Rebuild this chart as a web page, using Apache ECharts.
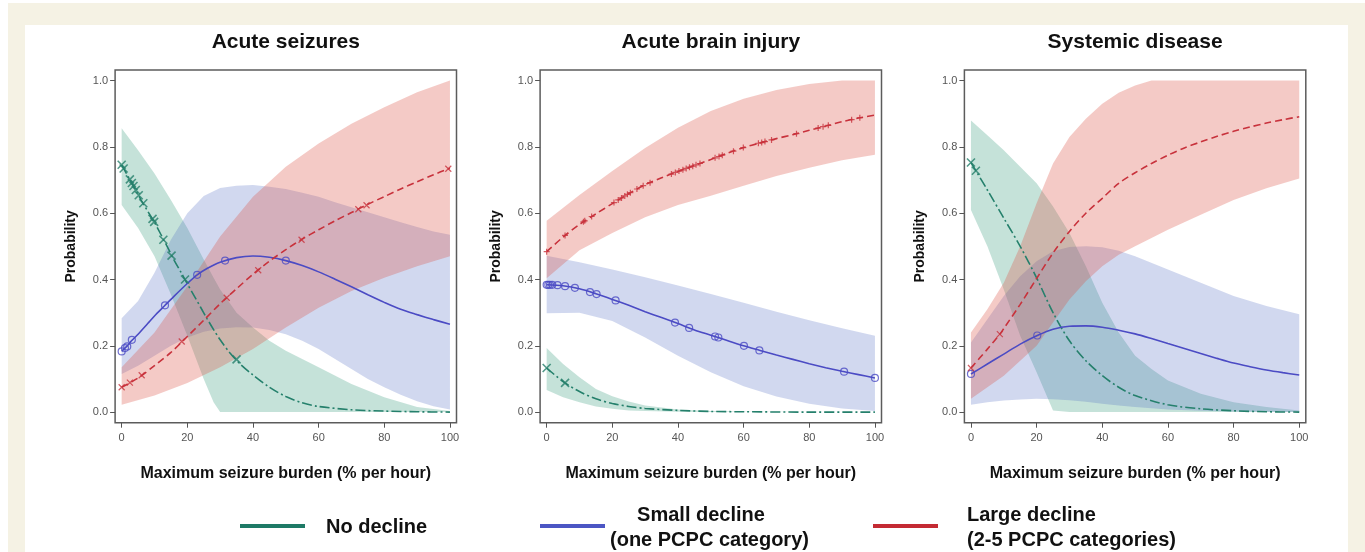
<!DOCTYPE html>
<html><head><meta charset="utf-8">
<script src="https://cdn.jsdelivr.net/npm/echarts@6/dist/echarts.min.js"></script>
<style>
html,body{margin:0;padding:0;background:#fff;}
#wrap{position:relative;width:1365px;height:552px;overflow:hidden;background:#fff;}
#cream{position:absolute;left:8px;top:3px;right:0;bottom:0;background:#f5f2e4;}
#paper{position:absolute;left:25px;top:25px;width:1323px;bottom:0;background:#fff;}
#chart{position:absolute;left:0;top:0;width:1365px;height:552px;}
</style></head><body>
<div id="wrap"><div id="cream"></div><div id="paper"></div><div id="chart"></div></div>
<script>
// ---------- text / ticks ----------
const panelTitles = ['Acute seizures', 'Acute brain injury', 'Systemic disease'];
const xAxisTitle = 'Maximum seizure burden (% per hour)';
const yAxisTitle = 'Probability';
const xTicks = [0, 20, 40, 60, 80, 100];
const yTicks = [0, 0.2, 0.4, 0.6, 0.8, 1.0];
const legendLines = [['No decline'], ['Small decline', '(one PCPC category)'], ['Large decline', '(2-5 PCPC categories)']];

// ---------- Panel 1: Acute seizures ----------
const as_noX = [0,2,4,6,8,10,12,14,16,18,20,22,24,26,28,30,33,36,40,45,50,55,60,70,80,90,100];
const as_noY = [0.746,0.71,0.675,0.638,0.605,0.572,0.535,0.497,0.458,0.423,0.387,0.352,0.317,0.282,0.249,0.218,0.178,0.146,0.112,0.075,0.047,0.028,0.017,0.007,0.003,0.001,0.0];
const as_noMX = [0,0.6,2.5,3.1,3.6,4.3,5.2,6.6,9.4,9.9,12.7,15.2,19.3,35];
const as_noMY = [0.746,0.735,0.702,0.691,0.682,0.67,0.654,0.63,0.583,0.574,0.52,0.472,0.4,0.159];
const as_noBX = [0,5,10,15,20,25,28,30,35,40,45,50,60,70,80,90,100];
const as_noLo = [0.625,0.555,0.47,0.355,0.23,0.1,0.03,0,0,0,0,0,0,0,0,0,0];
const as_noHi = [0.856,0.79,0.72,0.64,0.555,0.46,0.405,0.37,0.3,0.255,0.215,0.185,0.135,0.085,0.045,0.015,0.003];

const as_smX = [0,1,2,3,5,8,10,13,16,20,23,26,30,35,40,45,50,55,60,65,70,75,80,85,90,95,100];
const as_smY = [0.183,0.193,0.203,0.215,0.235,0.268,0.29,0.32,0.35,0.388,0.414,0.433,0.452,0.466,0.471,0.467,0.457,0.442,0.423,0.401,0.378,0.354,0.331,0.31,0.294,0.279,0.265];
const as_smMX = [0,1,1.7,3.1,13.2,23,31.5,50];
const as_smMY = [0.183,0.193,0.198,0.218,0.322,0.414,0.457,0.457];
const as_smBX = [0,5,10,15,20,25,30,35,40,45,50,55,60,65,70,75,80,85,90,95,100];
const as_smHi = [0.283,0.335,0.42,0.52,0.6,0.652,0.676,0.683,0.685,0.68,0.673,0.662,0.65,0.633,0.618,0.603,0.588,0.573,0.558,0.545,0.535];
const as_smLo = [0.115,0.14,0.17,0.2,0.225,0.242,0.252,0.256,0.255,0.248,0.235,0.215,0.19,0.16,0.13,0.1,0.075,0.052,0.033,0.018,0.008];

const as_lgX = [0,5,10,15,20,25,30,35,40,45,50,55,60,65,70,75,80,85,90,95,100];
const as_lgY = [0.075,0.103,0.14,0.18,0.228,0.277,0.327,0.372,0.416,0.455,0.49,0.522,0.55,0.577,0.602,0.627,0.65,0.673,0.695,0.716,0.736];
const as_lgMX = [0,2.5,6.1,18.3,32,41.6,54.8,72.1,74.6,99.5];
const as_lgMY = [0.075,0.089,0.111,0.213,0.345,0.428,0.52,0.612,0.624,0.734];
const as_lgBX = [0,10,20,30,40,50,60,70,80,90,100];
const as_lgHi = [0.135,0.24,0.38,0.53,0.65,0.74,0.81,0.87,0.92,0.965,1.0];
const as_lgLo = [0.022,0.05,0.088,0.135,0.19,0.255,0.315,0.365,0.405,0.44,0.47];

// ---------- Panel 2: Acute brain injury ----------
const ab_noX = [0,5,10,15,20,25,30,40,50,60,80,100];
const ab_noY = [0.133,0.092,0.062,0.04,0.026,0.017,0.011,0.005,0.002,0.001,0.0,0.0];
const ab_noMX = [0,5.6];
const ab_noMY = [0.133,0.088];
const ab_noBX = [0,5,10,15,20,25,30,40,50,60,100];
const ab_noHi = [0.193,0.145,0.105,0.07,0.048,0.032,0.02,0.008,0.003,0.001,0];
const ab_noLo = [0.067,0.045,0.03,0.017,0.01,0.005,0.003,0.001,0,0,0];

const ab_smX = [0,5,10,15,20,25,30,35,40,45,50,55,60,65,70,75,80,85,90,95,100];
const ab_smY = [0.384,0.381,0.372,0.357,0.34,0.322,0.303,0.285,0.267,0.248,0.232,0.216,0.2,0.186,0.172,0.159,0.146,0.134,0.123,0.113,0.103];
const ab_smMX = [0,0.5,1,1.7,3.3,5.6,8.6,13.2,15.2,21,39.1,43.4,51.3,52.3,60.1,64.8,90.6,100];
const ab_smMY = [0.384,0.384,0.384,0.384,0.383,0.38,0.375,0.362,0.356,0.337,0.27,0.254,0.228,0.225,0.2,0.186,0.122,0.103];
const ab_smBX = [0,10,20,30,40,50,60,70,80,90,100];
const ab_smHi = [0.472,0.452,0.43,0.407,0.382,0.356,0.33,0.303,0.277,0.253,0.23];
const ab_smLo = [0.298,0.3,0.275,0.225,0.17,0.12,0.078,0.047,0.025,0.011,0.003];

const ab_lgX = [0,5,10,15,20,25,30,35,40,45,50,55,60,65,70,75,80,85,90,95,100];
const ab_lgY = [0.484,0.528,0.566,0.598,0.629,0.659,0.686,0.707,0.726,0.744,0.762,0.781,0.798,0.812,0.825,0.837,0.85,0.863,0.876,0.887,0.896];
const ab_lgMX = [0,5.6,11.2,11.6,13.7,20.5,21.8,22.8,23.8,24.6,25.5,27.5,29.4,31.5,38,39.2,40.3,41.5,42.5,43.5,44.5,45.5,46.7,51.3,52.5,53.5,56.9,59.9,64.5,65.5,66.5,68.5,76.1,82.7,84.2,85.8,92.9,95.4];
const ab_lgMY = [0.484,0.533,0.574,0.577,0.59,0.632,0.64,0.646,0.652,0.657,0.662,0.673,0.683,0.692,0.718,0.723,0.727,0.731,0.735,0.739,0.742,0.746,0.75,0.767,0.771,0.775,0.787,0.798,0.811,0.813,0.816,0.821,0.84,0.857,0.861,0.865,0.882,0.888];
const ab_lgBX = [0,10,20,30,40,50,60,70,80,90,100];
const ab_lgHi = [0.577,0.655,0.727,0.797,0.858,0.908,0.945,0.972,0.99,1.0,1.0];
const ab_lgLo = [0.404,0.488,0.54,0.588,0.625,0.653,0.683,0.712,0.737,0.76,0.776];

// ---------- Panel 3: Systemic disease ----------
const sd_noX = [0,1.5,5,10,15,20,25,30,35,40,45,50,60,70,80,90,100];
const sd_noY = [0.753,0.728,0.67,0.585,0.5,0.405,0.3,0.215,0.155,0.11,0.075,0.05,0.022,0.01,0.004,0.001,0.0];
const sd_noMX = [0,1.5];
const sd_noMY = [0.753,0.728];
const sd_noBX = [0,5,10,15,20,25,30,35,40,45,50,55,60,70,80,90,100];
const sd_noHi = [0.88,0.835,0.79,0.74,0.69,0.62,0.54,0.44,0.33,0.24,0.17,0.13,0.095,0.055,0.03,0.015,0.005];
const sd_noLo = [0.61,0.5,0.37,0.23,0.12,0.005,0,0,0,0,0,0,0,0,0,0,0];

const sd_smX = [0,5,10,15,20.2,25,30,35,40,45,50,55,60,65,70,75,80,85,90,95,100];
const sd_smY = [0.115,0.145,0.175,0.205,0.231,0.25,0.259,0.26,0.256,0.247,0.236,0.222,0.207,0.192,0.177,0.162,0.148,0.137,0.127,0.119,0.112];
const sd_smMX = [0,20.2];
const sd_smMY = [0.115,0.231];
const sd_smBX = [0,5,10,15,20,25,30,35,40,45,50,60,70,80,90,100];
const sd_smHi = [0.21,0.28,0.35,0.41,0.455,0.485,0.498,0.5,0.497,0.487,0.47,0.43,0.39,0.35,0.32,0.295];
const sd_smLo = [0.022,0.03,0.035,0.038,0.04,0.039,0.036,0.031,0.025,0.02,0.015,0.008,0.004,0.002,0.001,0.0];

const sd_lgX = [0,5,8.8,10,15,20,25,30,35,40,45,50,55,60,65,70,75,80,85,90,95,100];
const sd_lgY = [0.133,0.19,0.235,0.252,0.325,0.403,0.48,0.545,0.6,0.645,0.69,0.722,0.75,0.775,0.797,0.815,0.832,0.847,0.86,0.872,0.882,0.891];
const sd_lgMX = [0,8.8];
const sd_lgMY = [0.133,0.235];
const sd_lgBX = [0,5,10,15,20,25,30,35,40,45,50,55,60,70,80,90,100];
const sd_lgHi = [0.24,0.31,0.39,0.5,0.63,0.75,0.83,0.885,0.93,0.963,0.985,1.0,1.0,1.0,1.0,1.0,1.0];
const sd_lgLo = [0.04,0.075,0.11,0.155,0.2,0.27,0.34,0.395,0.44,0.475,0.5,0.525,0.55,0.595,0.64,0.675,0.705];

// ---------- build ----------
const FONT = '"Liberation Sans", Arial, Helvetica, sans-serif';
const GRID_LEFT = [115.1, 540.1, 964.4];
const GRID_TOP = 70, GRID_W = 341.4, GRID_H = 352.7;
const SYM_X = 'path://M0,0L10,10M10,0L0,10';
const SYM_PLUS = 'path://M5,0L5,10M0,5L10,5';
const COL = {
  no:    { line: '#25806c', band: 'rgba(64,160,130,0.30)', legend: '#1e7a66', dash: [10, 3, 2, 3], sym: SYM_X, size: 8, bw: 1.6 },
  small: { line: '#4b4bc4', band: 'rgba(70,100,190,0.25)', legend: '#4c56c4', dash: 'solid', sym: 'circle', size: 7, bw: 1.2 },
  large: { line: '#c8323c', band: 'rgba(220,80,65,0.30)', legend: '#c42a33', dash: [7, 4], sym: SYM_X, size: 6, bw: 1.2 }
};

const panels = [
  { no: {x:as_noX,y:as_noY,mx:as_noMX,my:as_noMY,bx:as_noBX,lo:as_noLo,hi:as_noHi},
    small: {x:as_smX,y:as_smY,mx:as_smMX,my:as_smMY,bx:as_smBX,lo:as_smLo,hi:as_smHi},
    large: {x:as_lgX,y:as_lgY,mx:as_lgMX,my:as_lgMY,bx:as_lgBX,lo:as_lgLo,hi:as_lgHi}, largeSym: SYM_X },
  { no: {x:ab_noX,y:ab_noY,mx:ab_noMX,my:ab_noMY,bx:ab_noBX,lo:ab_noLo,hi:ab_noHi},
    small: {x:ab_smX,y:ab_smY,mx:ab_smMX,my:ab_smMY,bx:ab_smBX,lo:ab_smLo,hi:ab_smHi},
    large: {x:ab_lgX,y:ab_lgY,mx:ab_lgMX,my:ab_lgMY,bx:ab_lgBX,lo:ab_lgLo,hi:ab_lgHi}, largeSym: SYM_PLUS },
  { no: {x:sd_noX,y:sd_noY,mx:sd_noMX,my:sd_noMY,bx:sd_noBX,lo:sd_noLo,hi:sd_noHi},
    small: {x:sd_smX,y:sd_smY,mx:sd_smMX,my:sd_smMY,bx:sd_smBX,lo:sd_smLo,hi:sd_smHi},
    large: {x:sd_lgX,y:sd_lgY,mx:sd_lgMX,my:sd_lgMY,bx:sd_lgBX,lo:sd_lgLo,hi:sd_lgHi}, largeSym: SYM_X }
];

function bandSeries(g, b, fill) {
  return {
    type: 'custom', xAxisIndex: g, yAxisIndex: g, silent: true, z: 1,
    data: b.bx.map((x, i) => [x, b.lo[i], b.hi[i]]),
    encode: { x: 0, y: [1, 2] },
    renderItem: (params, api) => {
      if (params.dataIndex !== 0) return null;
      const pts = [];
      for (let i = 0; i < b.bx.length; i++) pts.push(api.coord([b.bx[i], b.hi[i]]));
      for (let i = b.bx.length - 1; i >= 0; i--) pts.push(api.coord([b.bx[i], b.lo[i]]));
      return { type: 'polygon', shape: { points: pts }, style: { fill: fill } };
    }
  };
}
function lineSeries(g, s, c) {
  return {
    type: 'line', xAxisIndex: g, yAxisIndex: g, silent: true, z: 3,
    data: s.x.map((x, i) => [x, s.y[i]]),
    showSymbol: false, symbol: 'none', smooth: 0.3,
    lineStyle: { color: c.line, width: 1.6, type: c.dash }
  };
}
function markSeries(g, s, c, sym) {
  return {
    type: 'scatter', xAxisIndex: g, yAxisIndex: g, silent: true, z: 4,
    data: s.mx.map((x, i) => [x, s.my[i]]),
    symbol: sym, symbolSize: c.size,
    itemStyle: { color: sym === 'circle' ? 'rgba(0,0,0,0)' : c.line, borderColor: c.line, borderWidth: c.bw }
  };
}

const grids = [], xAxes = [], yAxes = [], series = [], titles = [];
panels.forEach((p, g) => {
  grids.push({ left: GRID_LEFT[g], top: GRID_TOP, width: GRID_W, height: GRID_H,
    show: true, borderColor: '#5c5c5c', borderWidth: 1.5, backgroundColor: 'rgba(0,0,0,0)' });
  xAxes.push({
    type: 'value', gridIndex: g, min: -2, max: 102,
    name: xAxisTitle, nameLocation: 'middle', nameGap: 43,
    nameTextStyle: { fontFamily: FONT, fontSize: 16, fontWeight: 'bold', color: '#111' },
    axisLine: { show: false, onZero: false },
    axisTick: { show: true, customValues: xTicks, length: 5, lineStyle: { color: '#555', width: 1 } },
    axisLabel: { customValues: xTicks, margin: 10, fontFamily: FONT, fontSize: 11, color: '#555' },
    splitLine: { show: false }
  });
  yAxes.push({
    type: 'value', gridIndex: g, min: -0.032, max: 1.032,
    name: yAxisTitle, nameLocation: 'middle', nameGap: 37,
    nameTextStyle: { fontFamily: FONT, fontSize: 14, fontWeight: 'bold', color: '#111' },
    axisLine: { show: false, onZero: false },
    axisTick: { show: true, customValues: yTicks, length: 5, lineStyle: { color: '#555', width: 1 } },
    axisLabel: { customValues: yTicks, margin: 7, fontFamily: FONT, fontSize: 11, color: '#555',
      formatter: v => Number(v).toFixed(1) },
    splitLine: { show: false }
  });
  titles.push({ text: panelTitles[g], left: GRID_LEFT[g] + GRID_W / 2, top: 32, textAlign: 'center', padding: 0,
    textStyle: { fontFamily: FONT, fontSize: 21, fontWeight: 'bold', color: '#111' } });
  series.push(bandSeries(g, p.no, COL.no.band));
  series.push(bandSeries(g, p.small, COL.small.band));
  series.push(bandSeries(g, p.large, COL.large.band));
  series.push(lineSeries(g, p.no, COL.no));
  series.push(lineSeries(g, p.small, COL.small));
  series.push(lineSeries(g, p.large, COL.large));
  series.push(markSeries(g, p.no, COL.no, COL.no.sym));
  series.push(markSeries(g, p.small, COL.small, COL.small.sym));
  series.push(markSeries(g, p.large, COL.large, p.largeSym));
});

const LF = { fontFamily: FONT, fontSize: 20, fontWeight: 'bold', fill: '#111' };
const legendGraphic = [
  { type: 'rect', shape: { x: 240, y: 524, width: 65, height: 4 }, style: { fill: COL.no.legend } },
  { type: 'text', x: 326, y: 527, style: Object.assign({ text: legendLines[0][0], align: 'left', verticalAlign: 'middle' }, LF) },
  { type: 'rect', shape: { x: 540, y: 524, width: 65, height: 4 }, style: { fill: COL.small.legend } },
  { type: 'text', x: 701, y: 515, style: Object.assign({ text: legendLines[1][0], align: 'center', verticalAlign: 'middle' }, LF) },
  { type: 'text', x: 610, y: 540, style: Object.assign({ text: legendLines[1][1], align: 'left', verticalAlign: 'middle' }, LF) },
  { type: 'rect', shape: { x: 873, y: 524, width: 65, height: 4 }, style: { fill: COL.large.legend } },
  { type: 'text', x: 967, y: 515, style: Object.assign({ text: legendLines[2][0], align: 'left', verticalAlign: 'middle' }, LF) },
  { type: 'text', x: 967, y: 540, style: Object.assign({ text: legendLines[2][1], align: 'left', verticalAlign: 'middle' }, LF) }
];

const chart = echarts.init(document.getElementById('chart'), null, { renderer: 'canvas' });
chart.setOption({
  animation: false,
  backgroundColor: 'rgba(0,0,0,0)',
  title: titles,
  grid: grids,
  xAxis: xAxes,
  yAxis: yAxes,
  series: series,
  graphic: { elements: legendGraphic }
});
</script>
</body></html>
